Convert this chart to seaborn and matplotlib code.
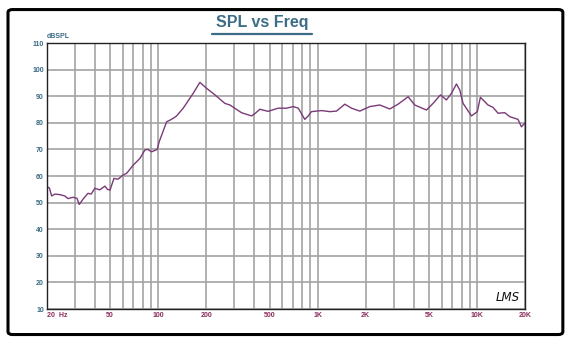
import numpy as np
import seaborn as sns
import matplotlib.pyplot as plt
from matplotlib.patches import FancyBboxPatch
from matplotlib.lines import Line2D
from matplotlib.ticker import FixedLocator, NullFormatter

# frequency response (Hz, dB SPL)
freq = [20, 20.8, 21.5, 22.5, 24.2, 26, 27.2, 29.2, 31, 32, 34, 36.3, 38, 40.1, 43,
        46.4, 48, 49.9, 52.8, 56, 60, 63.4, 69.8, 76.8, 82.6, 86, 91, 98.6, 101.5,
        113, 118.5, 124.2, 130, 143.6, 165.8, 182.6, 201, 227, 262, 281.6, 333, 385,
        405, 434, 489, 565, 638, 702, 756, 830, 870, 914, 1057, 1192, 1312, 1479,
        1630, 1837, 2122, 2452, 2832, 3192, 3690, 4060, 4808, 5288, 5886, 6414, 6896,
        7414, 7780, 8154, 9206, 10020, 10472, 11690, 12560, 13520, 14894, 16000,
        18020, 18930, 20000]
spl = [56, 55.5, 52.5, 53.2, 53, 52.5, 51.5, 52, 51.6, 49.3, 51.5, 53.5, 53.2, 55.4, 54.8,
       56.2, 55, 54.7, 59.1, 58.8, 60.3, 61, 64.1, 66.6, 69.8, 70, 69.1, 70, 72.9,
       80.4, 81, 81.7, 82.5, 85.5, 91.1, 95.2, 93, 90.5, 87.3, 86.7, 83.8, 82.6,
       83.5, 85.1, 84.3, 85.5, 85.5, 86.1, 85.5, 81.3, 82.5, 84.2, 84.6, 84.2, 84.4, 87,
       85.5, 84.4, 86.1, 86.7, 85.2, 87, 89.8, 86.7, 84.8, 87.3, 90.5, 88.6, 91.1,
       94.6, 92.3, 87.3, 82.6, 84.2, 89.6, 86.7, 85.8, 83.6, 83.8, 82.3,
       81.3, 78.5, 80]

x_ticks = [20, 50, 100, 200, 500, 1000, 2000, 5000, 10000, 20000]
x_labels = ["20  Hz", "50", "100", "200", "500", "1K", "2K", "5K", "10K", "20K"]
y_ticks = [10, 20, 30, 40, 50, 60, 70, 80, 90, 100, 110]
minor_x = [m * 10 ** e for e in range(1, 5) for m in range(1, 10)
           if 20 <= m * 10 ** e <= 20000 and m * 10 ** e not in x_ticks]

sns.set_style("white")
plt.rcParams['font.family'] = ['Liberation Sans', 'DejaVu Sans']

fig = plt.figure(figsize=(5.72, 3.54), dpi=100)
ax = fig.add_axes([0.0816, 0.1271, 0.8366, 0.7514])

sns.lineplot(x=freq, y=spl, ax=ax, color="#7a3a78", linewidth=1.0)

ax.set_xscale("log")
ax.set_xlim(20, 20000)
ax.set_ylim(10, 110)
ax.xaxis.set_major_locator(FixedLocator(x_ticks))
ax.xaxis.set_minor_locator(FixedLocator(minor_x))
ax.xaxis.set_minor_formatter(NullFormatter())
ax.set_xticklabels(x_labels)
ax.set_yticks(y_ticks)
ax.grid(True, which="both", axis="x", color="#a3a3a3", linewidth=1.2)
ax.grid(True, which="major", axis="y", color="#a3a3a3", linewidth=1.2)
ax.tick_params(axis="both", which="both", length=0)
ax.tick_params(axis="x", pad=2, labelsize=5, labelcolor="#8a2d5a")
ax.tick_params(axis="y", pad=2, labelsize=5, labelcolor="#3a6a85")
for lab in ax.get_xticklabels() + ax.get_yticklabels():
    lab.set_fontweight("bold")
ax.get_xticklabels()[0].set_horizontalalignment("left")
for s in ax.spines.values():
    s.set_color("#222222")
    s.set_linewidth(1.0)
ax.set_xlabel("")
ax.set_ylabel("")

ax.text(0.0, 1.012, "dBSPL", transform=ax.transAxes, fontsize=5, fontweight="bold",
        color="#3a6a85", ha="left", va="bottom")
ax.text(0.988, 0.018, "LMS", transform=ax.transAxes, fontsize=8.5, fontstyle="italic",
        color="#111111", ha="right", va="bottom", family="DejaVu Sans")

# title with underline
fig.text(0.458, 0.915, "SPL vs Freq", fontsize=11.5, fontweight="bold",
         color="#3d6d86", ha="center", va="bottom")
fig.add_artist(Line2D([0.37, 0.546], [0.905, 0.905], transform=fig.transFigure,
                      color="#3d6d86", linewidth=1.6))

# outer rounded frame
fig.add_artist(FancyBboxPatch((0.014, 0.055), 0.97, 0.918, transform=fig.transFigure,
                              boxstyle="round,pad=0,rounding_size=0.008",
                              facecolor="none", edgecolor="black", linewidth=2.2))

fig.savefig("out.png", dpi=100)
